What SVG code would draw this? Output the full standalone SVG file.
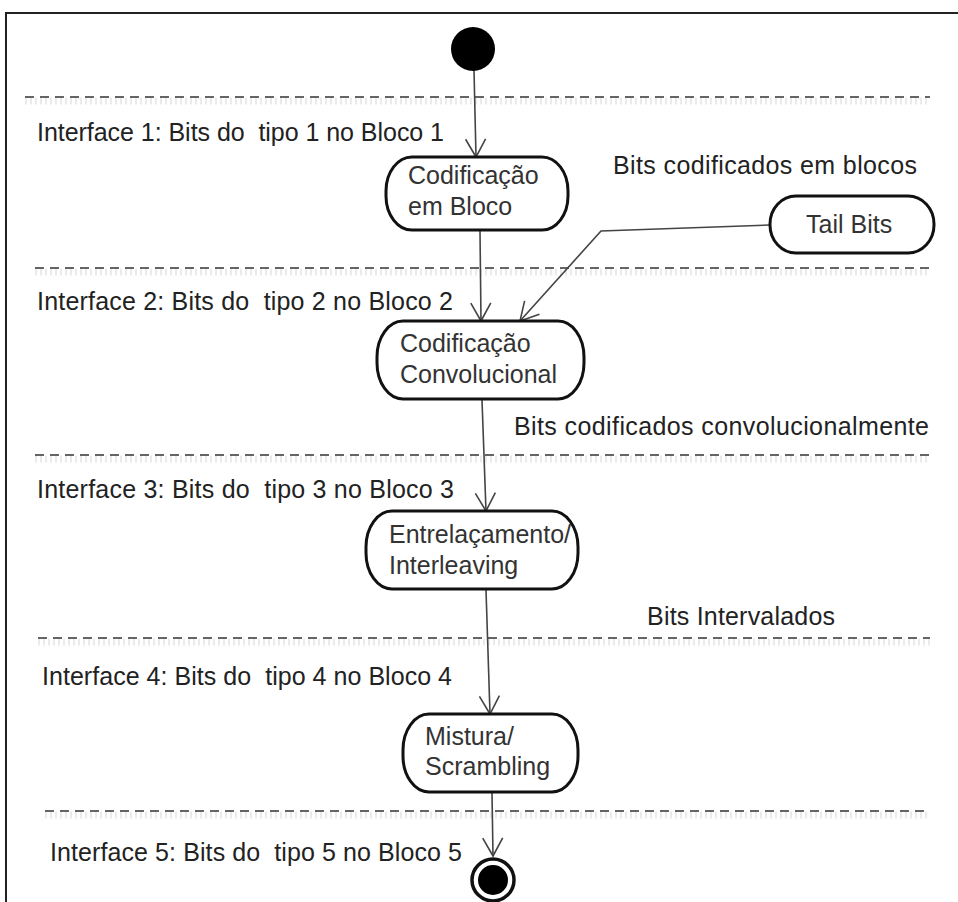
<svg xmlns="http://www.w3.org/2000/svg" width="958" height="902" viewBox="0 0 958 902">
  <defs>
    <marker id="open" viewBox="0 0 22 24" refX="20" refY="12" markerWidth="22" markerHeight="24" markerUnits="userSpaceOnUse" orient="auto">
      <path d="M2,2 L20,12 L2,22" fill="none" stroke="#444" stroke-width="1.6"/>
    </marker>
  </defs>
  <style>
    .lbl { font-family: "Liberation Sans", Arial, sans-serif; font-size: 25px; fill: #222; white-space: pre; }
    .ntx { font-family: "Liberation Sans", Arial, sans-serif; font-size: 25px; fill: #333; }
    .sep { stroke: #333; stroke-width: 1.6; stroke-dasharray: 9 6; fill: none; }
    .haze { stroke: #e2e2e2; stroke-width: 7; stroke-dasharray: 2 3; fill: none; opacity: 0.7; }
    .node { fill: #fff; stroke: #111; stroke-width: 3; }
    .edge { stroke: #444; stroke-width: 1.6; fill: none; marker-end: url(#open); }
  </style>
  <rect x="0" y="0" width="958" height="902" fill="#fff"/>
  <!-- frame -->
  <path d="M6,902 V13 H958" fill="none" stroke="#222" stroke-width="2"/>

  <!-- interface separators -->
  <g id="separators">
    <line class="haze" x1="25" y1="101" x2="930" y2="101"/>
    <line class="sep" x1="25" y1="97" x2="930" y2="97"/>
    <line class="haze" x1="35" y1="272" x2="930" y2="272"/>
    <line class="sep" x1="35" y1="268" x2="930" y2="268"/>
    <line class="haze" x1="35" y1="459" x2="930" y2="459"/>
    <line class="sep" x1="35" y1="455" x2="930" y2="455"/>
    <line class="haze" x1="38" y1="642" x2="930" y2="642"/>
    <line class="sep" x1="38" y1="638" x2="930" y2="638"/>
    <line class="haze" x1="45" y1="815" x2="930" y2="815"/>
    <line class="sep" x1="45" y1="811" x2="930" y2="811"/>
  </g>

  <!-- interface and flow labels -->
  <g id="labels">
    <text class="lbl" x="37" y="141" xml:space="preserve" textLength="407">Interface 1: Bits do  tipo 1 no Bloco 1</text>
    <text class="lbl" x="37" y="310" xml:space="preserve" textLength="416">Interface 2: Bits do  tipo 2 no Bloco 2</text>
    <text class="lbl" x="37" y="498" xml:space="preserve" textLength="417">Interface 3: Bits do  tipo 3 no Bloco 3</text>
    <text class="lbl" x="42" y="685" xml:space="preserve" textLength="410">Interface 4: Bits do  tipo 4 no Bloco 4</text>
    <text class="lbl" x="50" y="861" xml:space="preserve" textLength="412">Interface 5: Bits do  tipo 5 no Bloco 5</text>
    <text class="lbl" x="613" y="174" textLength="304">Bits codificados em blocos</text>
    <text class="lbl" x="514" y="435" textLength="415">Bits codificados convolucionalmente</text>
    <text class="lbl" x="647" y="625" textLength="188">Bits Intervalados</text>
  </g>

  <!-- connectors -->
  <g id="connectors">
    <path class="edge" d="M474,70 L476,157"/>
    <path class="edge" d="M480,231 L481,321"/>
    <path class="edge" d="M770,225 L601,231 L520,321"/>
    <path class="edge" d="M482,400 L486,511"/>
    <path class="edge" d="M486,590 L490,714"/>
    <path class="edge" d="M492,793 L493,856"/>
  </g>

  <!-- initial node -->
  <g id="start">
    <ellipse cx="473" cy="49" rx="22" ry="22" fill="#000"/>
  </g>

  <g id="codificacao-bloco">
    <rect class="node" x="386" y="157" width="182" height="73" rx="26" ry="34"/>
    <text class="ntx" x="408" y="184">Codificação</text>
    <text class="ntx" x="408" y="215">em Bloco</text>
  </g>

  <g id="tail-bits">
    <rect class="node" x="770" y="196" width="164" height="57" rx="26" ry="28"/>
    <text class="ntx" x="806" y="233">Tail Bits</text>
  </g>

  <g id="codificacao-convolucional">
    <rect class="node" x="377" y="321" width="207" height="78" rx="26" ry="36"/>
    <text class="ntx" x="400" y="352">Codificação</text>
    <text class="ntx" x="400" y="383">Convolucional</text>
  </g>

  <g id="entrelacamento">
    <rect class="node" x="366" y="511" width="212" height="78" rx="26" ry="36"/>
    <text class="ntx" x="389" y="543">Entrelaçamento/</text>
    <text class="ntx" x="389" y="574">Interleaving</text>
  </g>

  <g id="mistura">
    <rect class="node" x="403" y="714" width="175" height="78" rx="26" ry="36"/>
    <text class="ntx" x="425" y="745">Mistura/</text>
    <text class="ntx" x="425" y="775">Scrambling</text>
  </g>

  <!-- final node -->
  <g id="end">
    <circle cx="493" cy="880" r="21" fill="#fff" stroke="#111" stroke-width="3.5"/>
    <circle cx="493" cy="880" r="15" fill="#000"/>
  </g>
</svg>
